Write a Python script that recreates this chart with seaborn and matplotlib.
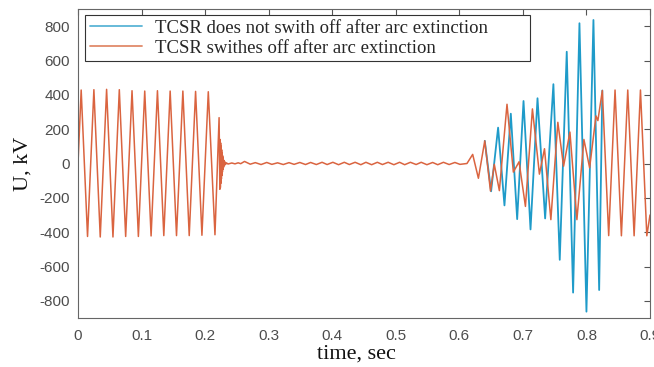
import numpy as np
import pandas as pd
import matplotlib
matplotlib.use("Agg")
import matplotlib.pyplot as plt
from matplotlib.lines import Line2D
import seaborn as sns

# extrema of the voltage waveform (time in s, U in kV)
# 50 Hz before the fault
pre_t = [0.0, 0.005, 0.015, 0.025, 0.035, 0.045, 0.055, 0.065, 0.075, 0.085, 0.095, 0.105,
         0.115, 0.125, 0.135, 0.145, 0.155, 0.165, 0.175, 0.185, 0.195, 0.205, 0.2155]
pre_u = [0, 428, -425, 430, -428, 432, -428, 430, -425, 424, -425, 422,
         -422, 424, -420, 422, -420, 422, -420, 420, -418, 418, -415]

# fault / arc burst
fault_t = [0.2220, 0.2232, 0.2236, 0.2240, 0.2244, 0.2248, 0.2252, 0.2256, 0.2260, 0.2264, 0.2268,
           0.2272, 0.2276, 0.2280, 0.2285, 0.2290, 0.2296, 0.2302, 0.2310, 0.2320, 0.2335, 0.2360,
           0.2420, 0.2470, 0.2520, 0.2560]
fault_u = [267, -150, 140, -140, 120, -115, 100, -90, 80, -70, 60,
           -50, 45, -35, 30, -22, 18, -12, 10, -6, 4, -3,
           3, -2, 4, -1]

# small ripple during the dead time
ripple_t = [0.262, 0.271, 0.279, 0.288, 0.297, 0.305, 0.314, 0.323, 0.332, 0.340, 0.349,
            0.358, 0.366, 0.375, 0.384, 0.392, 0.401, 0.410, 0.419, 0.427, 0.436, 0.445,
            0.453, 0.462, 0.471, 0.479, 0.488, 0.497, 0.506, 0.514, 0.523, 0.532, 0.540,
            0.549, 0.558, 0.566, 0.575, 0.584, 0.593, 0.601, 0.612]
ripple_u = [12, -4, 5, -6, 6, -5, 4, -6, 5, -5, 6,
            -6, 6, -6, 7, -6, 7, -7, 7, -6, 7, -7,
            7, -7, 7, -6, 7, -7, 7, -7, 7, -6, 7,
            -7, 6, -7, 7, -6, 6, -5, 0]

# reclosing onset, both cases equal
onset_t = [0.621, 0.630, 0.640]
onset_u = [53, -86, 132]

# TCSR does not switch off (only where it leaves the other curve)
blue_t = [0.640, 0.650, 0.661, 0.671, 0.681, 0.691, 0.701, 0.712, 0.723, 0.735, 0.748,
          0.758, 0.769, 0.779, 0.789, 0.800, 0.811, 0.820, 0.825]
blue_u = [132, -162, 209, -244, 290, -324, 364, -384, 380, -320, 462,
          -561, 651, -752, 817, -863, 836, -737, 425]

# TCSR switches off
orange_t = [0.649, 0.655, 0.663, 0.675, 0.685, 0.694, 0.704, 0.715, 0.726, 0.734,
            0.744, 0.755, 0.764, 0.774, 0.785, 0.796, 0.805, 0.815, 0.818, 0.825]
orange_u = [-160, -5, -158, 345, -50, 10, -250, 318, -62, 86,
            -327, 240, -16, 183, -327, 140, -25, 277, 250, 425]

# back to steady 50 Hz
tail_t = [0.835, 0.845, 0.855, 0.865, 0.875, 0.885, 0.895, 0.900]
tail_u = [-420, 428, -421, 428, -421, 428, -421, -300]

lbl_blue = "TCSR does not swith off after arc extinction"
lbl_orange = "TCSR swithes off after arc extinction"

common_t = pre_t + fault_t + ripple_t + onset_t
common_u = pre_u + fault_u + ripple_u + onset_u

df = pd.concat([
    pd.DataFrame({"t": blue_t, "u": blue_u, "case": lbl_blue}),
    pd.DataFrame({"t": common_t + orange_t + tail_t, "u": common_u + orange_u + tail_u, "case": lbl_orange}),
], ignore_index=True)

sns.set_style("white")
plt.rcParams["font.family"] = ["Liberation Sans", "DejaVu Sans"]
plt.rcParams["axes.unicode_minus"] = False

fig = plt.figure(figsize=(6.54, 3.67), dpi=100)
ax = fig.add_axes([78 / 654, 1 - 318 / 367, (650 - 78) / 654, (318 - 9) / 367])

colors = {lbl_blue: "#1f9bc9", lbl_orange: "#da6440"}
sns.lineplot(data=df, x="t", y="u", hue="case", hue_order=[lbl_blue, lbl_orange],
             palette=colors, estimator=None, sort=False, ax=ax, legend=False)
ax.lines[0].set_linewidth(1.3)
ax.lines[1].set_linewidth(1.1)

ax.set_xlim(0, 0.9)
ax.set_ylim(-900, 900)
ax.set_xticks(np.arange(0, 0.91, 0.1))
ax.set_xticklabels(["0", "0.1", "0.2", "0.3", "0.4", "0.5", "0.6", "0.7", "0.8", "0.9"])
ax.set_yticks(np.arange(-800, 801, 200))

ax.tick_params(direction="in", length=4, width=0.8, colors="#555555", labelcolor="#4d4d4d",
               labelsize=11, top=True, right=True)
ax.tick_params(axis="x", pad=8)
ax.tick_params(axis="y", pad=6)
for s in ax.spines.values():
    s.set_visible(True)
    s.set_color("#666666")
    s.set_linewidth(0.8)

ax.set_xlabel("time, sec", family="Liberation Serif", fontsize=16, color="#111111")
ax.set_ylabel("U, kV", family="Liberation Serif", fontsize=16, color="#111111")
ax.xaxis.set_label_coords(0.486, -0.085)
ax.yaxis.set_label_coords(-0.079, 0.5)

handles = [Line2D([], [], color="#5ab4d6", lw=1.3), Line2D([], [], color="#e08a6a", lw=1.3)]
leg = ax.legend(handles, [lbl_blue, lbl_orange], loc="upper left",
                bbox_to_anchor=(0.0122, 0.0, 0.778, 0.9806), mode="expand",
                prop={"family": "Liberation Serif", "size": 13.5}, frameon=True, fancybox=False,
                framealpha=1, edgecolor="#333333", handlelength=2.8, handletextpad=0.7,
                labelspacing=0.15, borderpad=0.25, borderaxespad=0)
leg.get_frame().set_linewidth(0.8)

fig.savefig("out.png", dpi=100)
